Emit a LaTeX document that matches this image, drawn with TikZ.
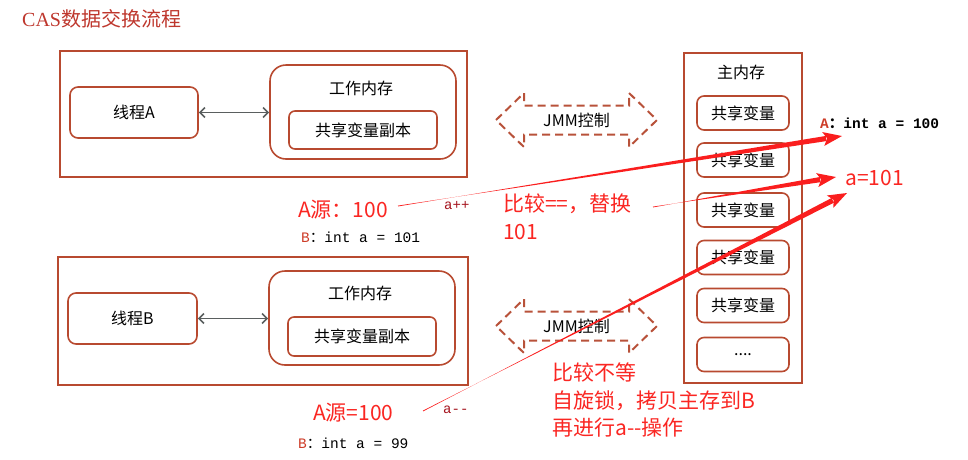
\documentclass[tikz,border=0pt]{standalone}
\usepackage{fontspec}
\setmainfont{Noto Sans CJK SC}
\newfontfamily\monof{Liberation Mono}
\newfontfamily\seriff{Liberation Serif}
\newfontfamily\cjk{Noto Sans CJK SC}
\usetikzlibrary{arrows.meta,calc}
\definecolor{boxc}{RGB}{184,74,48}
\definecolor{dashc}{RGB}{184,82,58}
\definecolor{redt}{RGB}{250,38,34}
\definecolor{arrred}{RGB}{250,30,30}
\definecolor{darkred}{RGB}{165,20,30}
\definecolor{titlec}{RGB}{190,55,45}
\definecolor{prefc}{RGB}{205,60,40}
\definecolor{arrgrey}{RGB}{90,95,95}
\newcommand{\taparrow}[2]{%
  \coordinate (tmpb) at ($(#2)!16pt!(#1)$);
  \coordinate (tmph) at ($(#2)!19pt!(#1)$);
  \coordinate (tmpn) at ($(#2)!15pt!(#1)$);
  \fill[arrred] ($(#1)!0.4pt!90:(#2)$) -- ($(tmpb)!2.6pt!-90:(#2)$) -- ($(tmpb)!2.6pt!90:(#2)$) -- ($(#1)!0.4pt!-90:(#2)$) -- cycle;
  \fill[arrred] (#2) -- ($(tmph)!7pt!90:(#2)$) -- (tmpn) -- ($(tmph)!7pt!-90:(#2)$) -- cycle;
}
\newcommand{\jmmshape}[1]{%
  \draw[jmm] ($(#1)+(-80.5,0)$) -- ($(#1)+(-52.5,-27)$) -- ($(#1)+(-52.5,-14.5)$) -- ($(#1)+(52.5,-14.5)$) -- ($(#1)+(52.5,-27)$) -- ($(#1)+(80.5,0)$) -- ($(#1)+(52.5,27)$) -- ($(#1)+(52.5,14.5)$) -- ($(#1)+(-52.5,14.5)$) -- ($(#1)+(-52.5,27)$) -- cycle;
}
\begin{document}
\begin{tikzpicture}[x=1pt,y=-1pt,
  box/.style={draw=boxc, line width=1.6pt, inner sep=0pt, font=\fontsize{16}{19}\selectfont},
  outerbox/.style={box, line width=2pt},
  rbox/.style={box, rounded corners=8pt},
  wmbox/.style={box, rounded corners=16pt},
  smbox/.style={box, rounded corners=6pt},
  txt/.style={inner sep=0pt, font=\fontsize{16}{19}\selectfont},
  redtxt/.style={inner sep=0pt, text=redt, font=\fontsize{21}{27.5}\selectfont, align=left},
  codetxt/.style={inner sep=0pt, font=\monof\fontsize{14.5}{17}\selectfont},
  smalltxt/.style={inner sep=0pt, text=darkred, font=\monof\fontsize{14}{16}\selectfont},
  jmm/.style={draw=dashc, line width=2pt, dash pattern=on 8pt off 5pt},
  dblarr/.style={{Straight Barb[length=5pt,width=10pt,line width=1.6pt]}-{Straight Barb[length=5pt,width=10pt,line width=1.6pt]}, draw=arrgrey, line width=1.6pt}
]
\useasboundingbox (0,0) rectangle (968,459);

% title
\node[inner sep=0pt, anchor=west, text=titlec, font=\fontsize{20}{24}\selectfont] (title) at (22,19) {{\seriff CAS}数据交换流程};

% thread A block
\node[outerbox, minimum width=407pt, minimum height=126pt] (outA) at (263.5,114) {};
\node[rbox, minimum width=128pt, minimum height=51pt] (tA) at (134,112.5) {线程A};
\node[wmbox, minimum width=186pt, minimum height=94pt] (wA) at (363,112) {};
\node[txt] (wAt) at (361,88) {工作内存};
\node[smbox, minimum width=148pt, minimum height=38pt] (cA) at (363,130) {共享变量副本};
\draw[dblarr] (tA.east) -- (tA.east -| wA.west);

% thread B block
\node[outerbox, minimum width=410pt, minimum height=128pt] (outB) at (263,321) {};
\node[rbox, minimum width=129pt, minimum height=51pt] (tB) at (132.5,318.5) {线程B};
\node[wmbox, minimum width=186pt, minimum height=94pt] (wB) at (362,318) {};
\node[txt] (wBt) at (360,293) {工作内存};
\node[smbox, minimum width=148pt, minimum height=39pt] (cB) at (362,336.5) {共享变量副本};
\draw[dblarr] (tB.east) -- (tB.east -| wB.west);

% JMM shapes
\coordinate (j1) at (576.5,120);
\coordinate (j2) at (576.5,326);
\jmmshape{j1}
\jmmshape{j2}
\node[txt] (j1t) at (j1) {JMM控制};
\node[txt] (j2t) at (j2) {JMM控制};

% main memory
\node[outerbox, minimum width=118pt, minimum height=330pt] (mm) at (743,218) {};
\node[txt] (mmt) at (741,72) {主内存};
\node[smbox, rounded corners=7pt, minimum width=92pt, minimum height=34pt] (v1) at (743,113) {共享变量};
\node[smbox, rounded corners=7pt, minimum width=92pt, minimum height=34pt] (v2) at (743,160) {共享变量};
\node[smbox, rounded corners=7pt, minimum width=92pt, minimum height=34pt] (v3) at (743,210) {共享变量};
\node[smbox, rounded corners=7pt, minimum width=92pt, minimum height=34pt] (v4) at (743,257.5) {共享变量};
\node[smbox, rounded corners=7pt, minimum width=92pt, minimum height=34pt] (v5) at (743,305.5) {共享变量};
\node[smbox, rounded corners=7pt, minimum width=92pt, minimum height=34pt] (v6) at (743,354.5) {....};

% labels
\node[redtxt, anchor=west] (asrc1) at (298,210) {A源：100};
\node[smalltxt, anchor=west] (app) at (444,206) {a++};
\node[redtxt, anchor=north west] (cmp1) at (503,194) {比较==，替换\\101};
\node[codetxt, anchor=west] (b1) at (301,237) {{\color{prefc}B}{\cjk ：}int a = 101};
\node[codetxt, anchor=west, font=\monof\bfseries\fontsize{14.5}{17}\selectfont] (mainval) at (820,123) {{\color{prefc}A}{\cjk ：}int a = 100};
\node[redtxt, anchor=west] (newval) at (845,178) {a=101};
\node[redtxt, anchor=west] (asrc2) at (313,413) {A源=100};
\node[smalltxt, anchor=west] (amm) at (443,410) {a-{}-};
\node[codetxt, anchor=west] (b2) at (298,443) {{\color{prefc}B}{\cjk ：}int a = 99};
\node[redtxt, anchor=north west] (cmp2) at (552,363) {比较不等\\自旋锁，拷贝主存到B\\再进行a-{}-操作};

% red tapered arrows
\coordinate (s1) at (398,206);
\coordinate (e1) at (842,136);
\coordinate (s2) at (653,207);
\coordinate (e2) at (836,177);
\coordinate (s3) at (423,411);
\coordinate (e3) at (847,193);
\taparrow{s1}{e1}
\taparrow{s2}{e2}
\taparrow{s3}{e3}
\end{tikzpicture}
\end{document}
